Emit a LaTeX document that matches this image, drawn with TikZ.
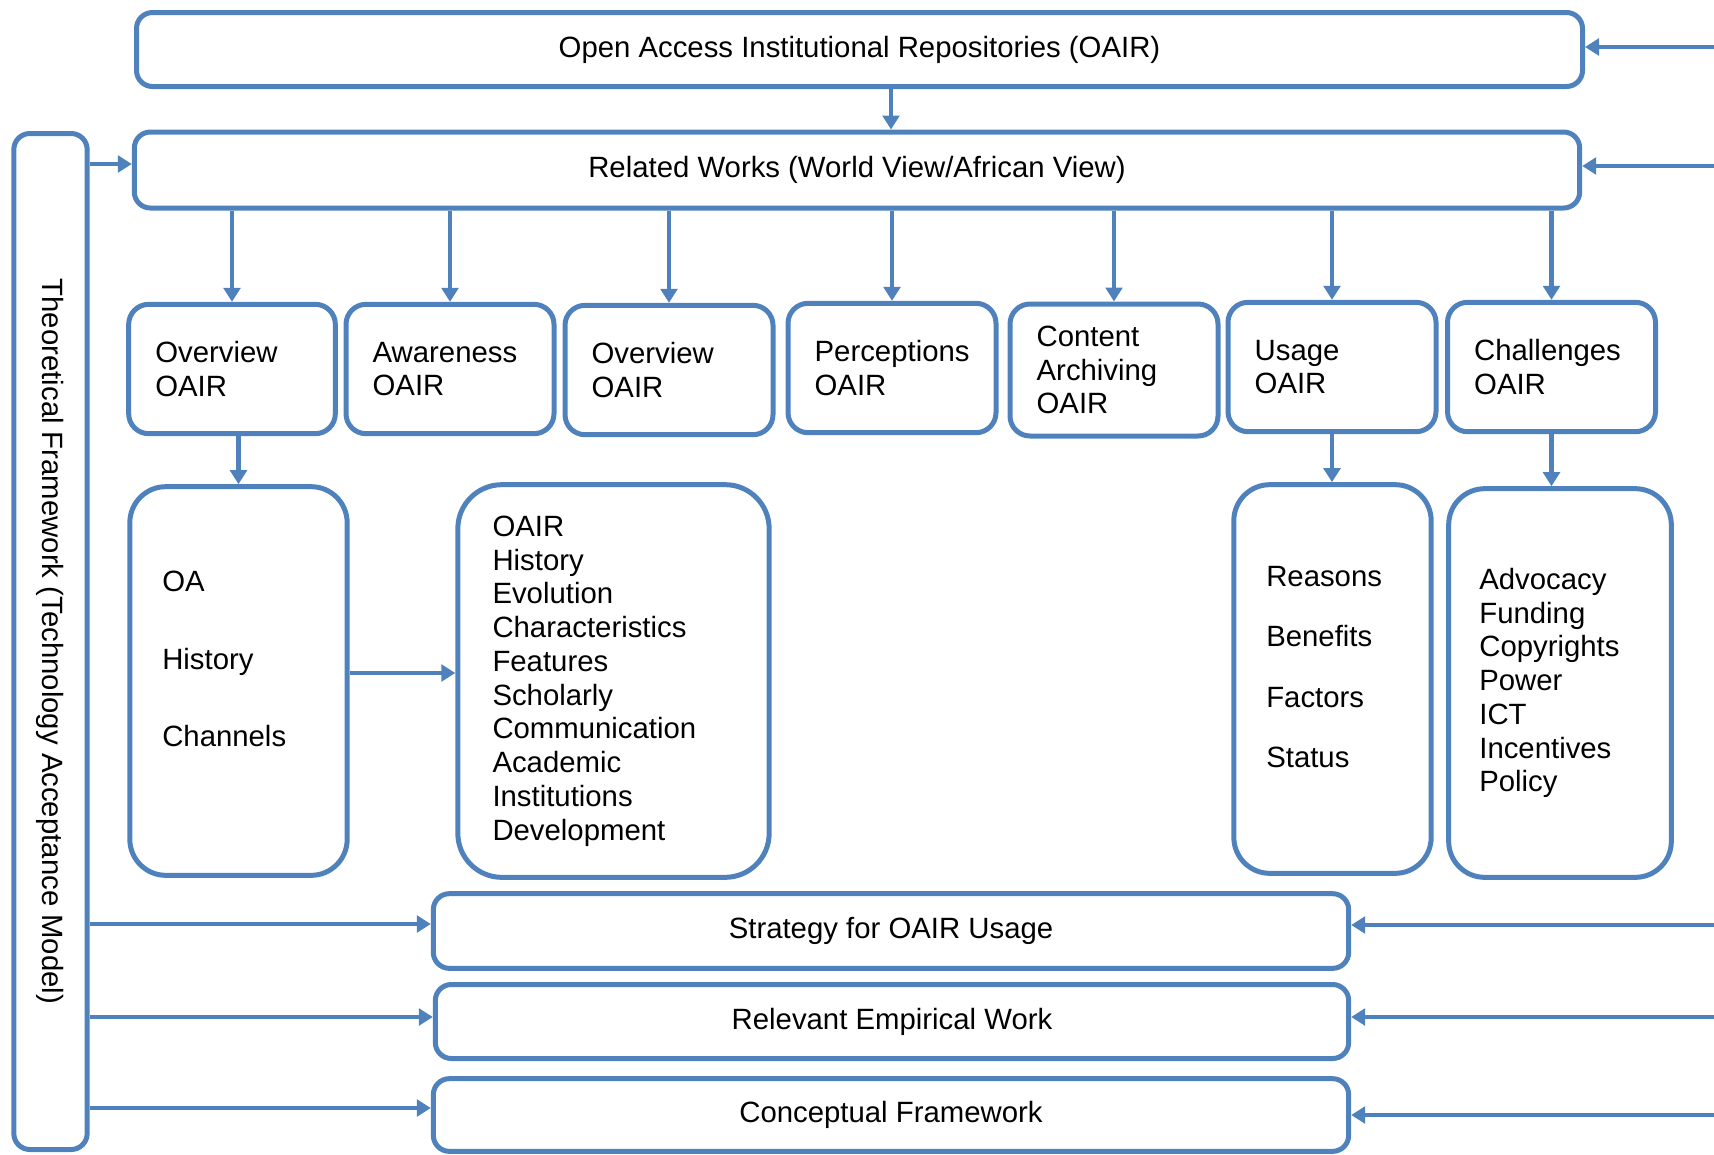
\documentclass[tikz,border=0pt]{standalone}
\usepackage{fontspec}
\setmainfont{Liberation Sans}
\usetikzlibrary{arrows.meta}
\definecolor{obl}{HTML}{4F81BD}
\newcommand\dfont{\fontsize{22pt}{25.3pt}\selectfont}
\begin{document}
\begin{tikzpicture}[x=0.75pt,y=-0.75pt,
  bx/.style={draw=obl,line width=3.75pt,inner sep=0pt,font=\dfont,text=black},
  wide/.style={bx,rounded corners=12pt},
  small/.style={bx,rounded corners=15pt,minimum width=156pt,minimum height=97pt,inner xsep=20pt,text width=116pt,align=left},
  tall/.style={bx,rounded corners=27pt},
  arr/.style={draw=obl,line width=3.5pt,-{Triangle[length=10.5pt,width=12.5pt]}},
  txt/.style={font=\dfont,align=left,inner sep=0pt,text=black}]
\useasboundingbox (0,0) rectangle (1714,1154);

% top boxes
\node[wide,minimum width=1084.5pt,minimum height=55.5pt] (oair) at (859.5,49.5) {Open Access Institutional Repositories (OAIR)};
\node[wide,minimum width=1084pt,minimum height=57pt] (rw) at (857,170) {Related Works (World View/African View)};

% vertical framework box
\node[wide,minimum width=55pt,minimum height=762pt] (vbox) at (50.5,641.5) {};
\node[txt,rotate=-90] (vtxt) at (vbox.center) {Theoretical Framework (Technology Acceptance Model)};

% row 1
\node[small,minimum width=155pt,text width=115pt] (b1) at (232,369) {Overview\\OAIR};
\node[small] (b2) at (450,369) {Awareness\\OAIR};
\node[small] (b3) at (669,370) {Overview\\OAIR};
\node[small] (b4) at (892,368) {Perceptions\\OAIR};
\node[small,minimum height=99pt] (b5) at (1114,370) {Content\\Archiving\\OAIR};
\node[small] (b6) at (1332,367) {Usage\\OAIR};
\node[small] (b7) at (1551.5,367) {Challenges\\OAIR};

% row 2
\node[tall,minimum width=163pt,minimum height=291.5pt] (oa) at (238.5,681) {};
\node[txt,anchor=west,font=\fontsize{22pt}{58.3pt}\selectfont] (oatxt) at (162,659) {OA\\History\\Channels};

\node[tall,rounded corners=33pt,minimum width=233.5pt,minimum height=294.5pt,inner xsep=26pt,text width=181.5pt,align=left] (list) at (613.5,681)
  {OAIR\\History\\Evolution\\Characteristics\\Features\\Scholarly\\Communication\\Academic\\Institutions\\Development};

\node[tall,minimum width=148pt,minimum height=291.5pt] (reas) at (1332.5,679) {};
\node[txt,anchor=west,font=\fontsize{22pt}{45.4pt}\selectfont] (reastxt) at (1266,667) {Reasons\\Benefits\\Factors\\Status};

\node[tall,minimum width=167pt,minimum height=291.5pt,inner xsep=23pt,text width=121pt,align=left] (adv) at (1560,683)
  {Advocacy\\Funding\\Copyrights\\Power\\ICT\\Incentives\\Policy};

% bottom boxes
\node[wide,minimum width=686.5pt,minimum height=56pt] (strat) at (891,931) {Strategy for OAIR Usage};
\node[wide,minimum width=685pt,minimum height=55.5pt] (rel) at (892,1021.5) {Relevant Empirical Work};
\node[wide,minimum width=686.5pt,minimum height=54.5pt] (conc) at (891,1115) {Conceptual Framework};

% helper coordinates
\coordinate (ax) at (891,0);
\coordinate (y673) at (0,673);
\coordinate (ly1) at (0,164);
\coordinate (ly2) at (0,924);
\coordinate (ly3) at (0,1017);
\coordinate (ly4) at (0,1108);
\coordinate (r1) at (1714,47);
\coordinate (r2) at (1714,166);
\coordinate (r3) at (1714,925);
\coordinate (r4) at (1714,1017);
\coordinate (r5) at (1714,1115);

% connectors
\draw[arr] (oair.south -| ax) -- (rw.north -| ax);
\foreach \b in {b1,b2,b3,b4,b5,b6,b7}{
  \draw[arr] (rw.south -| \b.north) -- (\b.north);
}
\draw[arr] (b1.south -| oa.north) -- (oa.north);
\draw[arr] (b6.south) -- (b6.south |- reas.north);
\draw[arr] (b7.south) -- (b7.south |- adv.north);
\draw[arr] (oa.east |- y673) -- (list.west |- y673);

\draw[arr] (vbox.east |- ly1) -- (rw.west |- ly1);
\draw[arr] (vbox.east |- ly2) -- (strat.west |- ly2);
\draw[arr] (vbox.east |- ly3) -- (rel.west |- ly3);
\draw[arr] (vbox.east |- ly4) -- (conc.west |- ly4);

\draw[arr] (r1) -- (oair.east |- r1);
\draw[arr] (r2) -- (rw.east |- r2);
\draw[arr] (r3) -- (strat.east |- r3);
\draw[arr] (r4) -- (rel.east |- r4);
\draw[arr] (r5) -- (conc.east |- r5);
\end{tikzpicture}
\end{document}
